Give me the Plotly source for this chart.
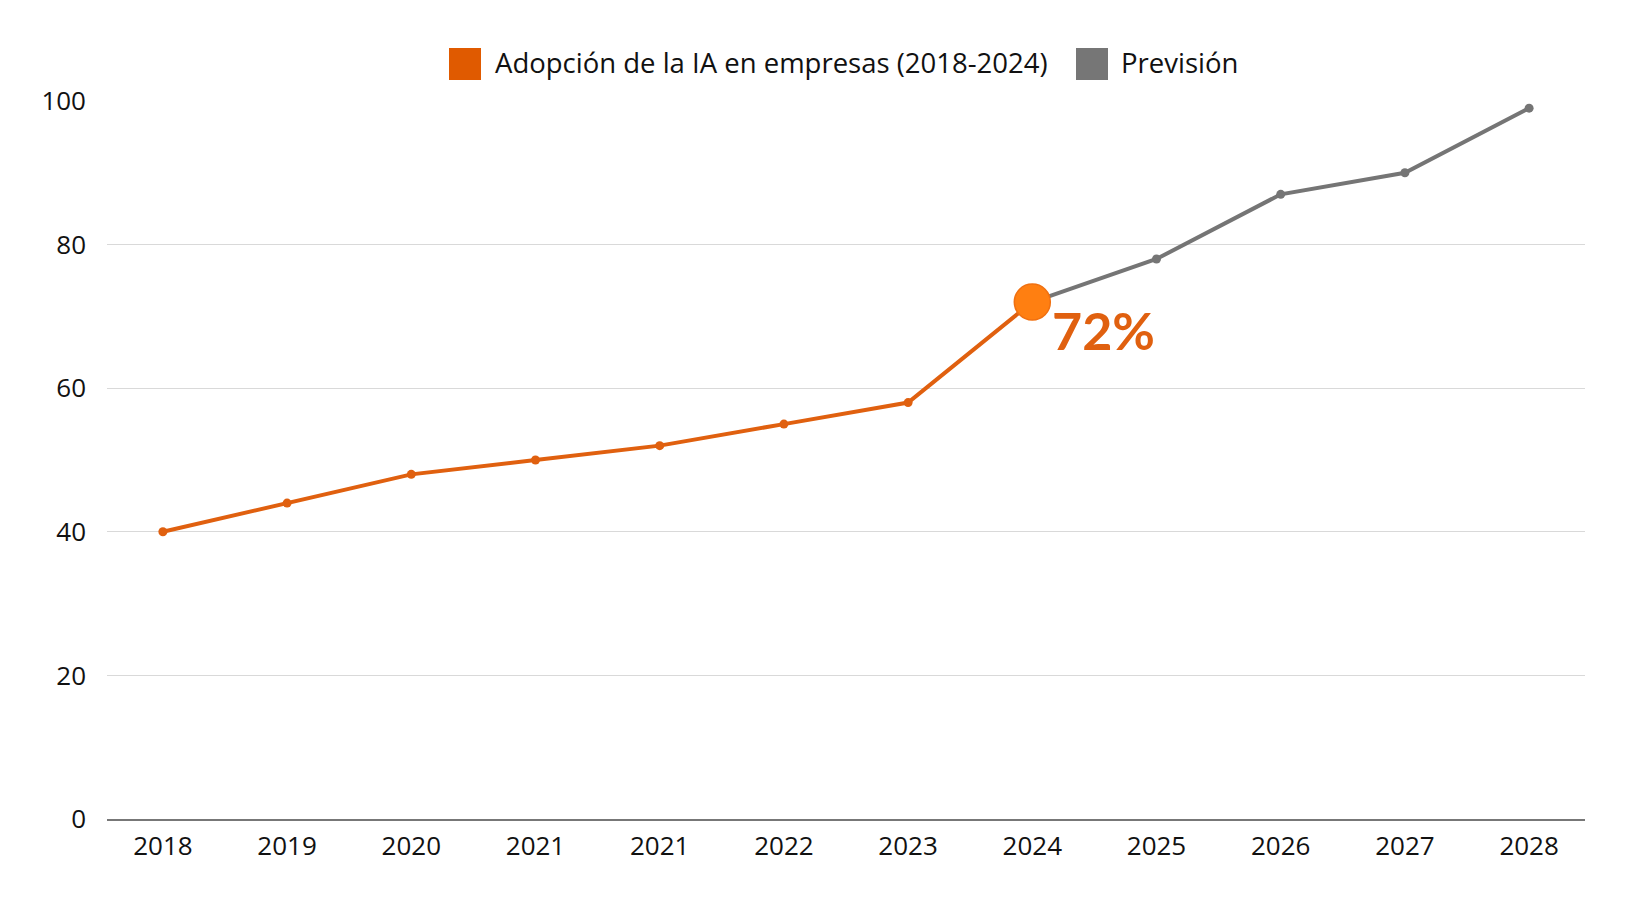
import plotly.graph_objects as go

years = ["2018", "2019", "2020", "2021", "2021", "2022", "2023", "2024", "2025", "2026", "2027", "2028"]
adopcion = [40, 44, 48, 50, 52, 55, 58, 72]
prevision = [72, 78, 87, 90, 99]
highlight_label = "72%"
y_ticks = [0, 20, 40, 60, 80, 100]

idx = list(range(len(years)))
idx_adop = idx[:len(adopcion)]
idx_prev = idx[len(adopcion) - 1:]

ORANGE = "#E0600F"
GRAY = "#757575"
FONT = "Open Sans"

fig = go.Figure()
fig.add_trace(go.Scatter(x=idx_prev, y=prevision, mode="lines+markers",
                         line=dict(color=GRAY, width=4), marker=dict(color=GRAY, size=9),
                         showlegend=False, cliponaxis=False))
fig.add_trace(go.Scatter(x=idx_adop, y=adopcion, mode="lines+markers",
                         line=dict(color=ORANGE, width=4), marker=dict(color=ORANGE, size=9),
                         showlegend=False, cliponaxis=False))
fig.add_trace(go.Scatter(x=[idx_adop[-1]], y=[adopcion[-1]], mode="markers",
                         marker=dict(color="#FF7F11", size=36, line=dict(color="#F07010", width=1.5)),
                         showlegend=False, cliponaxis=False))

fig.add_annotation(x=idx_adop[-1], y=adopcion[-1], text="<b>" + highlight_label + "</b>",
                   showarrow=False, xref="x", yref="y", xanchor="left", yanchor="top",
                   xshift=18, yshift=5,
                   font=dict(family="Lato", size=52, color=ORANGE))

# manual legend
legend_items = [("Adopción de la IA en empresas (2018-2024)", "#E05A00", 449, 493),
                ("Previsión", "#767676", 1076, 1119)]
W, H = 1640, 924
for label, col, sx, tx in legend_items:
    fig.add_shape(type="rect", xref="paper", yref="paper",
                  x0=(sx - 107) / (1585 - 107), x1=(sx + 32 - 107) / (1585 - 107),
                  y0=(819 - 80) / (819 - 101), y1=(819 - 48) / (819 - 101),
                  fillcolor=col, line=dict(width=0))
    fig.add_annotation(xref="paper", yref="paper", x=(tx - 107) / (1585 - 107),
                       y=(819 - 63) / (819 - 101), xanchor="left", yanchor="middle",
                       text=label, showarrow=False,
                       font=dict(family=FONT, size=27.5, color="#111111"))

fig.update_layout(
    width=W, height=H,
    margin=dict(l=107, r=55, t=101, b=105),
    paper_bgcolor="white", plot_bgcolor="white",
    font=dict(family=FONT, size=26, color="#111111"),
    showlegend=False,
)
fig.update_xaxes(range=[-0.45, len(years) - 1 + 0.45], tickmode="array", tickvals=idx, ticktext=years,
                 showgrid=False, zeroline=False, showline=True, linecolor="#777777", linewidth=1.5,
                 ticks="", ticklabelstandoff=3, tickfont=dict(family=FONT, size=26))
fig.update_yaxes(range=[0, 100], tickmode="array", tickvals=y_ticks,
                 showgrid=True, gridcolor="#D9D9D9", gridwidth=1, zeroline=False, showline=False,
                 ticks="", ticklabelstandoff=20, tickfont=dict(family=FONT, size=26))

fig.write_html("out.html")
